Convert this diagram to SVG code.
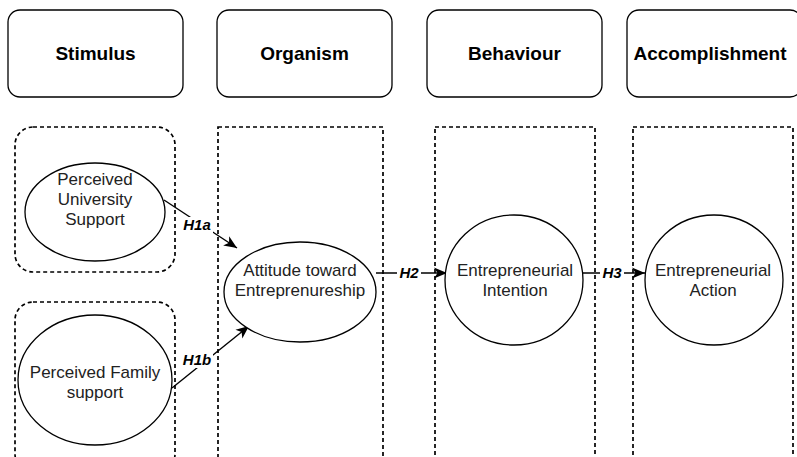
<svg xmlns="http://www.w3.org/2000/svg" width="797" height="457" viewBox="0 0 797 457">
<style>
.hdr{fill:#fff;stroke:#000;stroke-width:1.3}
.ht{font-family:"Liberation Sans",Arial,sans-serif;font-weight:bold;font-size:19px;text-anchor:middle}
.grp{fill:none;stroke:#000;stroke-width:1.7;stroke-dasharray:4 3}
.el{fill:#fff;stroke:#000;stroke-width:1.3}
.t{font-family:"Liberation Sans",Arial,sans-serif;font-size:17px;text-anchor:middle;fill:#222}
.ln{fill:none;stroke:#000;stroke-width:1.4}
.lb{font-family:"Liberation Sans",Arial,sans-serif;font-size:15px;font-weight:bold;font-style:italic;text-anchor:middle}
</style>
<defs>
<marker id="arr" markerWidth="15" markerHeight="12" refX="13" refY="6" orient="auto" markerUnits="userSpaceOnUse">
<path d="M0,0.5 L13,6 L0,11.5 L3.5,6 Z" fill="#000"/>
</marker>
</defs>
<rect width="797" height="457" fill="#fff"/>
<g id="hdr-stimulus"><rect class="hdr" x="8" y="10" width="175" height="87" rx="12"/><text class="ht" x="95.5" y="60">Stimulus</text></g>
<g id="hdr-organism"><rect class="hdr" x="217" y="10" width="175" height="87" rx="12"/><text class="ht" x="304.5" y="60">Organism</text></g>
<g id="hdr-behaviour"><rect class="hdr" x="427" y="10" width="175" height="87" rx="12"/><text class="ht" x="514.5" y="60">Behaviour</text></g>
<g id="hdr-accomplishment"><rect class="hdr" x="627" y="10" width="175" height="87" rx="12"/><text class="ht" x="710" y="60">Accomplishment</text></g>
<g id="grp-stim1"><rect class="grp" x="15" y="127" width="160" height="145" rx="18"/></g>
<g id="grp-stim2"><rect class="grp" x="15" y="302" width="160" height="170" rx="18"/></g>
<g id="grp-org"><rect class="grp" x="218" y="127" width="165" height="340"/></g>
<g id="grp-beh"><rect class="grp" x="435" y="127" width="160" height="340"/></g>
<g id="grp-acc"><rect class="grp" x="633" y="127" width="160" height="340"/></g>
<g id="connectors">
<path class="ln" d="M164,200 L237,248" marker-end="url(#arr)"/>
<path class="ln" d="M172,388 L249,326" marker-end="url(#arr)"/>
<path class="ln" d="M376,273 L447,273" marker-end="url(#arr)"/>
<path class="ln" d="M583,273 L645,273" marker-end="url(#arr)"/>
<rect x="182" y="217" width="31" height="16" fill="#fff"/>
<text class="lb" x="197" y="230">H1a</text>
<rect x="182" y="352" width="31" height="16" fill="#fff"/>
<text class="lb" x="197" y="365">H1b</text>
<rect x="397" y="265" width="24" height="16" fill="#fff"/>
<text class="lb" x="409" y="278">H2</text>
<rect x="600" y="265" width="24" height="16" fill="#fff"/>
<text class="lb" x="612" y="278">H3</text>
</g>
<g id="n-pus"><ellipse class="el" cx="95" cy="212" rx="70" ry="49"/><text class="t" x="95" y="185">Perceived</text><text class="t" x="95" y="205">University</text><text class="t" x="95" y="225">Support</text></g>
<g id="n-pfs"><ellipse class="el" cx="95" cy="380" rx="77" ry="65"/><text class="t" x="95" y="378">Perceived Family</text><text class="t" x="95" y="398">support</text></g>
<g id="n-ate"><ellipse class="el" cx="300" cy="292" rx="76" ry="50"/><text class="t" x="300" y="276">Attitude toward</text><text class="t" x="300" y="296">Entreprenureship</text></g>
<g id="n-ei"><ellipse class="el" cx="514" cy="280" rx="69" ry="65"/><text class="t" x="515" y="276">Entrepreneurial</text><text class="t" x="515" y="296">Intention</text></g>
<g id="n-ea"><ellipse class="el" cx="714" cy="280" rx="69" ry="65"/><text class="t" x="713" y="276">Entrepreneurial</text><text class="t" x="713" y="296">Action</text></g>
</svg>
